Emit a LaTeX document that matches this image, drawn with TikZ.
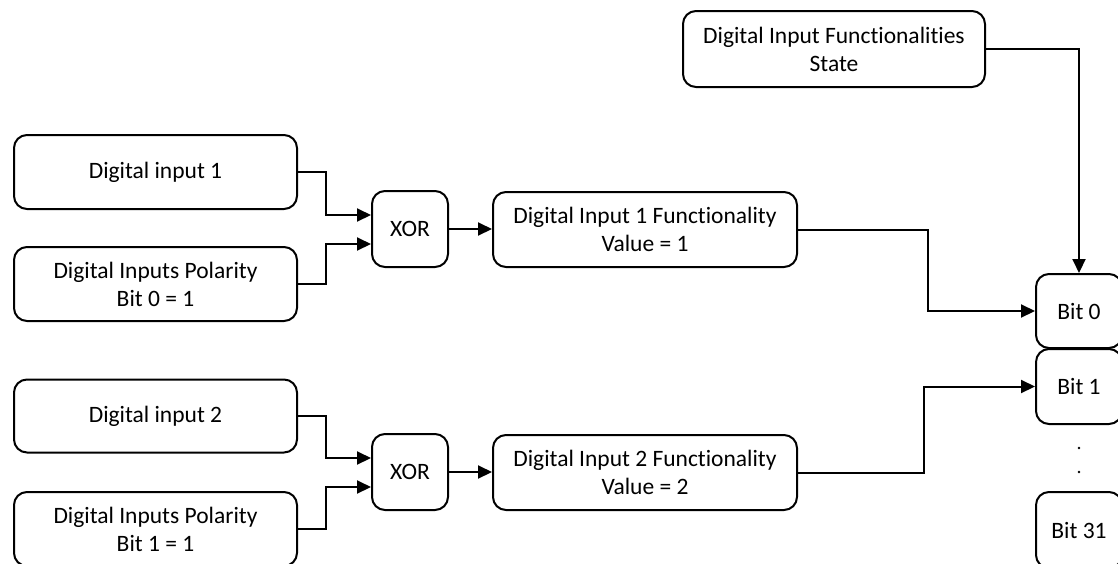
\documentclass[tikz,border=0pt]{standalone}
\usepackage{fontspec}
\setmainfont[Ligatures=NoCommon]{Carlito}
\usetikzlibrary{arrows.meta,calc}
\begin{document}
\begin{tikzpicture}[x=1pt,y=-1pt,
  box/.style={draw,line width=2pt,rounded corners=13pt,align=center,inner sep=0pt,
    font=\fontsize{23.5}{28}\selectfont},
  arr/.style={line width=2pt,-{Triangle[length=14pt,width=13pt]}}]
\useasboundingbox (0,0) rectangle (1118,563);
\clip (0,0) rectangle (1118,563);
\node[box,minimum width=302pt,minimum height=76pt] (top) at (834,49) {Digital Input Functionalities\\State};
\node[box,minimum width=283pt,minimum height=74pt] (in1) at (155.5,172) {Digital input 1};
\node[box,minimum width=283pt,minimum height=74pt] (pol0) at (155.5,284) {Digital Inputs Polarity\\Bit 0 = 1};
\node[box,minimum width=76pt,minimum height=76pt] (xor1) at (410,229) {XOR};
\node[box,minimum width=304pt,minimum height=75pt] (f1) at (645,229.5) {Digital Input 1 Functionality\\Value = 1};
\node[box,minimum width=283pt,minimum height=73pt] (in2) at (155.5,416) {Digital input 2};
\node[box,minimum width=283pt,minimum height=74pt] (pol1) at (155.5,529) {Digital Inputs Polarity\\Bit 1 = 1};
\node[box,minimum width=76pt,minimum height=76pt] (xor2) at (410,472) {XOR};
\node[box,minimum width=304pt,minimum height=75pt] (f2) at (645,472.5) {Digital Input 2 Functionality\\Value = 2};
\node[box,minimum width=86pt,minimum height=74pt] (b0) at (1079,311) {Bit 0};
\node[box,minimum width=86pt,minimum height=75pt] (b1) at (1079,386.5) {Bit 1};
\node[box,minimum width=86pt,minimum height=76pt] (b31) at (1079,530) {Bit 31};
\fill (1079,448) circle (1.3pt);
\fill (1079,472) circle (1.3pt);
\draw[arr] (in1.east) -- ++(28,0) |- ($(xor1.west)+(0,-14)$);
\draw[arr] (pol0.east) -- ++(28,0) |- ($(xor1.west)+(0,15)$);
\draw[arr] (xor1.east) -- (f1.west |- xor1.east);
\draw[arr] (in2.east) -- ++(28,0) |- ($(xor2.west)+(0,-14)$);
\draw[arr] (pol1.east) -- ++(28,0) |- ($(xor2.west)+(0,15)$);
\draw[arr] (xor2.east) -- (f2.west |- xor2.east);
\draw[arr] (f1.east) -- (928,229.5) |- (b0.west);
\draw[arr] (f2.east) -- (924,472.5) |- (b1.west);
\draw[arr] (top.east) -| (b0.north);
\end{tikzpicture}
\end{document}
